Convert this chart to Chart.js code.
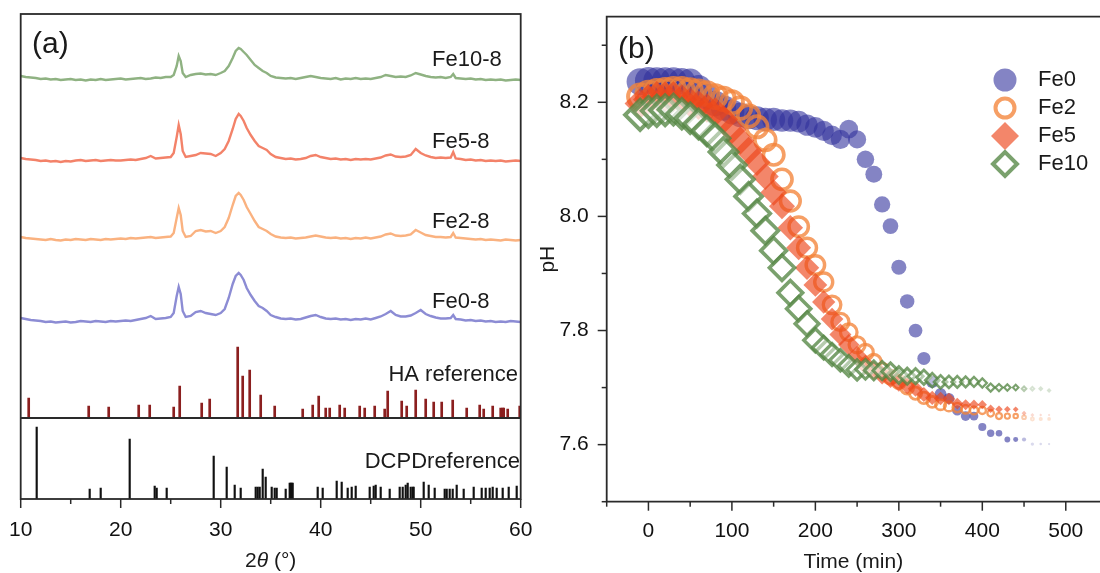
<!DOCTYPE html>
<html>
<head>
<meta charset="utf-8">
<title>XRD patterns and pH curves</title>
<script src="https://cdn.jsdelivr.net/npm/chart.js@4.4.1/dist/chart.umd.min.js"></script>
<style>
  html, body { margin: 0; padding: 0; background: #fff; overflow: hidden; }
  #xrd { position: absolute; left: 0; top: 0; }
  #ph { position: absolute; left: 525px; top: 0; }
</style>
</head>
<body>
<canvas id="xrd" width="545" height="573"></canvas>
<canvas id="ph" width="575" height="573"></canvas>
<script>
// ---- (a) XRD patterns, intensity in a.u. above each pattern's baseline ----
var twoTheta = [10, 10.5, 11, 11.5, 12, 12.5, 13, 13.5, 14, 14.5, 15, 15.5, 16, 16.5, 17, 17.5, 18, 18.5, 19, 19.5,
  20, 20.5, 21, 21.5, 22, 22.5, 23, 23.5, 24, 24.5,
  25, 25.3, 25.6, 25.8, 26, 26.2, 26.5, 27, 27.5, 28, 28.5, 29, 29.5, 30, 30.4, 30.8, 31.2, 31.5, 31.8, 32,
  32.3, 32.6, 33, 33.4, 33.8, 34.2, 34.6, 35, 35.5,
  36, 36.5, 37, 37.5, 38, 38.5, 39, 39.5, 40, 40.5, 41, 41.5, 42, 42.5, 43, 43.5, 44, 44.5, 45, 45.5,
  46, 46.5, 47, 47.5, 48, 48.5, 49, 49.5, 50, 50.5, 51, 51.5, 52, 52.5,
  53, 53.25, 53.5, 54, 54.5, 55, 55.5, 56, 56.5, 57, 57.5, 58, 58.5, 59, 59.5, 60];

var fe0_8 = [4, 3, 2, 1.5, 1, 0, 0.5, -0.5, 0, 0.5, -0.5, 0, 1, 0.5, 0, 1, 0.5, 0, 1, 0.5, 1, 1.5, 1, 2, 3, 4, 6, 3, 3.5, 4,
  5, 9, 26, 35, 28, 11, 5, 6, 10, 11, 9, 8, 7, 9, 13, 24, 38, 46, 49, 47, 42, 34, 27, 21, 16, 14, 11, 7, 5,
  3.5, 3, 3.5, 2.5, 3, 4.5, 6, 7, 5, 3.5, 3, 3.5, 2.5, 3, 2, 3, 2.5, 3.5, 2.5, 4, 5.5, 8, 11, 7, 5.5, 5.5, 6.5, 9, 12, 8, 6, 4.5, 3.5, 3.5,
  4, 7, 3, 2.5, 1.5, 2, 1, 1.5, 0.5, 1, 0, 0.5, 0, 1, 0.5, 0];
var fe2_8 = [3, 2, 1.5, 1, 0.5, 0, 1, 0, -0.5, 0.5, 0, 1, 0.5, 0, 1, 0.5, 0, 1, 0.5, 1, 1.5, 1, 2, 1.5, 2, 2.5, 3, 2, 2.5, 3,
  3.5, 7, 22, 32, 25, 9, 3, 4, 9, 10, 8.5, 9, 7, 9, 13, 22, 35, 44, 47, 45, 40, 33, 26, 19, 13, 11, 9, 6, 3.5,
  2.5, 2, 2.5, 1.5, 2, 2.5, 3.5, 4.5, 3.5, 2.5, 2, 2.5, 1.5, 2, 1, 2, 1.5, 2.5, 1.5, 2.5, 3.5, 5.5, 6.5, 4.5, 4, 4.5, 5.5, 10, 7.5, 5, 4, 3, 3, 2.5,
  3, 7, 2.5, 2, 1.5, 1, 0.5, 1, 0, 0.5, 0, -0.5, 0.5, 0, -0.5, 0];
var fe5_8 = [3, 2, 1.5, 1, 0, 0.5, -0.5, 0, -1, 0, -0.5, 0.5, 1, 0, 0.5, 1, 0, 0.5, 1, 0.5, 0.5, 1, 1.5, 1, 2, 3, 5, 2.5, 3, 3.5,
  4, 8, 24, 36, 27, 10, 4, 5, 6, 8, 7.5, 7, 5, 8, 12, 20, 32, 42, 47, 45, 40, 33, 26, 20, 15, 13, 11, 7, 4,
  3, 2, 2.5, 1.5, 2, 3, 5, 6, 4, 3, 2, 2.5, 1.5, 2, 1, 2, 1.5, 2, 1.5, 2.5, 3.5, 5.5, 6.5, 4.5, 4, 4.5, 6, 12, 8, 5.5, 4, 3, 3.5, 3,
  3.5, 9, 2.5, 2, 1, 1.5, 0.5, 1, 0, 0.5, 0, 0.5, -0.5, 0, 0.5, 0];
var fe10_8 = [4, 3, 2.5, 2, 1, 1.5, 0.5, 1, 0, 0.5, 1, 0, 0.5, -0.5, 0.5, 0, 1, 0, 0.5, 1, 1.5, 0.5, 1, 1.5, 2, 1, 1.5, 2.5, 2, 3,
  3, 5, 14, 24, 19, 7, 3, 5, 6, 6.5, 5.5, 6, 5, 7, 9, 14, 22, 29, 32, 31, 28, 25, 20, 15, 12, 9, 7, 4, 2.5,
  2, 1.5, 2, 1, 2, 3, 4, 3, 2, 1.5, 1, 2, 0.5, 1.5, 1, 2, 1, 1.5, 1, 2, 3, 5, 4, 3, 3.5, 3, 4.5, 7, 5.5, 4, 3, 2.5, 3, 2,
  3, 6, 2, 1.5, 1, 1.5, 0.5, 1, 0, 0.5, 0, 0.5, -0.5, 0, 0.5, 0];

// reference stick patterns
var haPos = [10.8, 16.8, 18.8, 21.8, 22.9, 25.3, 25.9, 28.1, 28.9, 31.7, 32.2, 32.9, 34.0, 35.4, 38.2, 39.2, 39.8, 40.5, 40.9, 41.9,
  42.4, 43.9, 44.4, 45.4, 46.4, 46.7, 48.1, 48.6, 49.5, 50.5, 51.3, 52.1, 53.2, 54.6, 55.9, 56.3, 57.2, 58.0, 58.2, 58.3, 58.7, 59.9];
var haInt = [20, 12, 11, 13, 13, 11, 32, 15, 19, 71, 42, 48, 23, 12, 9, 13, 22, 10, 10, 13,
  10, 12, 10, 12, 9, 27, 17, 12, 28, 19, 16, 16, 18, 10, 13, 9, 12, 10, 10, 10, 9, 12];
var dcpdPos = [11.6, 16.9, 18.0, 20.9, 23.4, 23.6, 24.6, 29.3, 30.6, 31.4, 32.0, 33.5, 33.7, 33.9, 34.2, 34.5, 35.1, 35.4, 35.6, 36.5,
  36.9, 37.0, 37.1, 37.2, 39.7, 40.2, 41.6, 42.1, 42.7, 43.1, 43.5, 44.9, 45.3, 45.5, 46.0, 46.9, 47.9, 48.2, 48.5, 48.7,
  49.0, 49.2, 49.3, 50.3, 50.8, 51.4, 52.4, 52.6, 52.9, 53.2, 53.6, 54.3, 55.3, 56.1, 56.5, 56.9, 57.2, 57.6, 58.2, 58.8, 59.6];
var dcpdInt = [72, 10, 11, 60, 13, 11, 11, 43, 32, 14, 11, 12, 12, 12, 30, 22, 12, 11, 11, 10,
  16, 16, 16, 16, 12, 11, 18, 17, 11, 12, 13, 12, 13, 14, 12, 10, 12, 12, 14, 16,
  12, 12, 12, 17, 14, 11, 10, 10, 10, 10, 14, 10, 12, 11, 11, 11, 12, 11, 11, 12, 13];

// ---- (b) pH versus time ----
var timeMin = [-10, 0, 10, 20, 30, 40, 50, 60, 70, 80, 90, 100, 110, 120, 130, 140, 150, 160, 170, 180, 190, 200,
  210, 220, 230, 240, 250, 260, 270, 280, 290, 300, 310, 320, 330, 340, 350, 360, 370, 380, 390, 400,
  410, 420, 430, 440, 450, 460, 470, 480];
var phFe0 = [8.236, 8.238, 8.238, 8.238, 8.238, 8.237, 8.236, 8.225, 8.21, 8.198, 8.19, 8.183, 8.178, 8.174, 8.172, 8.17, 8.17,
  8.168, 8.168, 8.166, 8.16, 8.156, 8.15, 8.142, 8.135, 8.153, 8.135, 8.10, 8.074, 8.021, 7.983, 7.911, 7.851, 7.80, 7.751,
  7.71, 7.689, 7.681, 7.66, 7.65, 7.65, 7.631, 7.62, 7.62, 7.609, 7.609, 7.609, 7.601, 7.601, 7.601];
var phFe2 = [8.21, 8.215, 8.218, 8.22, 8.222, 8.222, 8.22, 8.218, 8.215, 8.21, 8.206, 8.20, 8.19, 8.176, 8.157, 8.134, 8.108,
  8.065, 8.027, 7.982, 7.945, 7.915, 7.885, 7.845, 7.815, 7.797, 7.775, 7.762, 7.745, 7.73, 7.718, 7.71, 7.70, 7.69, 7.682,
  7.675, 7.67, 7.667, 7.665, 7.662, 7.66, 7.66, 7.655, 7.65, 7.65, 7.65, 7.648, 7.645, 7.645, 7.645];
var phFe5 = [8.198, 8.205, 8.21, 8.21, 8.21, 8.205, 8.20, 8.195, 8.19, 8.183, 8.17, 8.152, 8.133, 8.115, 8.095, 8.07, 8.042,
  8.018, 7.98, 7.945, 7.91, 7.88, 7.85, 7.82, 7.793, 7.775, 7.755, 7.74, 7.73, 7.722, 7.715, 7.708, 7.703, 7.698, 7.688,
  7.682, 7.681, 7.68, 7.672, 7.67, 7.67, 7.67, 7.663, 7.662, 7.662, 7.662, 7.655, 7.652, 7.652, 7.652];
var phFe10 = [8.178, 8.183, 8.185, 8.186, 8.187, 8.18, 8.172, 8.162, 8.15, 8.137, 8.113, 8.09, 8.065, 8.035, 8.005, 7.975, 7.94,
  7.91, 7.866, 7.838, 7.812, 7.783, 7.77, 7.758, 7.748, 7.738, 7.731, 7.732, 7.73, 7.73, 7.728, 7.722, 7.72, 7.72, 7.718,
  7.713, 7.71, 7.71, 7.71, 7.71, 7.71, 7.708, 7.70, 7.70, 7.70, 7.70, 7.698, 7.698, 7.698, 7.695];

var FONT = "'Liberation Sans', Arial, sans-serif";
var AXIS_COLOR = '#2a2a2a';

// stacking offsets of the patterns in panel (a)
var OFFSET = { fe0: 177, fe2: 259, fe5: 338, fe10: 419 };
var HA_BASE = 81;

function pattern(values, offset) {
  return twoTheta.map(function (x, i) { return { x: x, y: values[i] + offset }; });
}
function sticks(pos, ints, base) {
  return pos.map(function (x, i) { return { x: x, y: [base, base + ints[i]] }; });
}

// keep the plot area exactly where the layout padding puts it
function noEdgePadding(s) {
  s.paddingLeft = 0; s.paddingRight = 0; s.paddingTop = 0; s.paddingBottom = 0;
}

// tick marks drawn outside the frame, long for labelled ticks
function drawTicks(ctx, scale, horizontal) {
  scale.ticks.forEach(function (t) {
    var p = scale.getPixelForValue(t.value);
    var len = t.label === '' ? 5 : 9;
    ctx.beginPath();
    if (horizontal) {
      ctx.moveTo(p, scale.top);
      ctx.lineTo(p, scale.top + len);
    } else {
      ctx.moveTo(scale.right, p);
      ctx.lineTo(scale.right - len, p);
    }
    ctx.stroke();
  });
}

var xrdDecor = {
  id: 'xrdDecor',
  afterDraw: function (chart) {
    var ctx = chart.ctx, a = chart.chartArea;
    var sepY = chart.scales.y.getPixelForValue(HA_BASE);
    ctx.save();
    ctx.strokeStyle = AXIS_COLOR;
    ctx.lineWidth = 1.8;
    ctx.strokeRect(a.left, a.top, a.right - a.left, a.bottom - a.top);
    ctx.beginPath();
    ctx.moveTo(a.left, sepY);
    ctx.lineTo(a.right, sepY);
    ctx.stroke();
    ctx.lineWidth = 1.5;
    drawTicks(ctx, chart.scales.x, true);

    ctx.fillStyle = '#1a1a1a';
    ctx.textBaseline = 'middle';
    ctx.font = '30px ' + FONT;
    ctx.textAlign = 'left';
    ctx.fillText('(a)', 32, 45);

    ctx.font = '22px ' + FONT;
    ctx.fillText('Fe10-8', 432, 60);
    ctx.fillText('Fe5-8', 432, 142);
    ctx.fillText('Fe2-8', 432, 222);
    ctx.fillText('Fe0-8', 432, 302);
    ctx.textAlign = 'right';
    ctx.fillText('HA reference', 518, 375);
    ctx.fillText('DCPDreference', 520, 462);

    // axis title with italic theta
    var parts = [['2', '21px ' + FONT], ['\u03b8', 'italic 21px ' + FONT], [' (\u00b0)', '21px ' + FONT]];
    var w = 0;
    parts.forEach(function (p) { ctx.font = p[1]; w += ctx.measureText(p[0]).width; });
    var x = (a.left + a.right) / 2 - w / 2;
    ctx.textAlign = 'left';
    parts.forEach(function (p) {
      ctx.font = p[1];
      ctx.fillText(p[0], x, 561);
      x += ctx.measureText(p[0]).width;
    });
    ctx.restore();
  }
};

new Chart(document.getElementById('xrd'), {
  type: 'line',
  data: {
    datasets: [
      { label: 'Fe10-8', data: pattern(fe10_8, OFFSET.fe10), borderColor: 'rgb(143,178,130)' },
      { label: 'Fe5-8', data: pattern(fe5_8, OFFSET.fe5), borderColor: 'rgb(243,130,105)' },
      { label: 'Fe2-8', data: pattern(fe2_8, OFFSET.fe2), borderColor: 'rgb(250,178,128)' },
      { label: 'Fe0-8', data: pattern(fe0_8, OFFSET.fe0), borderColor: 'rgb(140,140,212)' },
      { type: 'bar', label: 'HA reference', data: sticks(haPos, haInt, HA_BASE), backgroundColor: '#8b1f1f', barThickness: 2, grouped: false },
      { type: 'bar', label: 'DCPD reference', data: sticks(dcpdPos, dcpdInt, 0), backgroundColor: '#111', barThickness: 1.5, grouped: false }
    ]
  },
  options: {
    responsive: false,
    animation: false,
    events: [],
    layout: { autoPadding: false, padding: { left: 20.7, top: 14, right: 24.3, bottom: 0 } },
    elements: { point: { radius: 0 }, line: { borderWidth: 2.4, tension: 0 } },
    plugins: { legend: { display: false }, tooltip: { enabled: false } },
    scales: {
      x: {
        type: 'linear', min: 10, max: 60, offset: false,
        grid: { display: false }, border: { display: false },
        ticks: {
          stepSize: 5, autoSkip: false, maxRotation: 0, padding: 11, color: '#111',
          font: { family: FONT, size: 21 },
          callback: function (v) { return v % 10 === 0 ? String(v) : ''; }
        },
        afterFit: function (s) { s.height = 74; noEdgePadding(s); }
      },
      y: { type: 'linear', min: 0, max: 485, display: false }
    }
  },
  plugins: [xrdDecor]
});

// ---- panel (b) ----
function rgba(c, a) { return 'rgba(' + c[0] + ',' + c[1] + ',' + c[2] + ',' + a + ')'; }
// markers shrink with time and fade out at the end of the run
function sizeFactor(t) { return Math.max(0.08, 1 - Math.pow(Math.max(t, 0) / 500, 1.6)); }
function fade(t) { return t >= 460 ? 0.3 : (t >= 450 ? 0.55 : 1); }
function tOf(c) { return c.dataIndex == null ? 0 : timeMin[c.dataIndex]; }

var phSeries = [
  { label: 'Fe0', values: phFe0, shape: 'circle', fill: [50, 50, 157], fillA: 0.6, line: [0, 0, 0], lineA: 0, r0: 13.5, bw0: 0, order: 4 },
  { label: 'Fe2', values: phFe2, shape: 'circle', fill: [255, 255, 255], fillA: 0, line: [244, 132, 58], lineA: 0.78, r0: 12, bw0: 4, order: 3 },
  { label: 'Fe5', values: phFe5, shape: 'rectRot', fill: [237, 69, 26], fillA: 0.65, line: [0, 0, 0], lineA: 0, r0: 15.5, bw0: 0, order: 2 },
  { label: 'Fe10', values: phFe10, shape: 'rectRot', fill: [255, 255, 255], fillA: 0.45, line: [84, 134, 68], lineA: 0.78, r0: 15, bw0: 4, order: 1 }
];

function markerPath(ctx, shape, x, y, r) {
  ctx.beginPath();
  if (shape === 'circle') {
    ctx.arc(x, y, r, 0, Math.PI * 2);
  } else {
    ctx.moveTo(x - r, y);
    ctx.lineTo(x, y - r);
    ctx.lineTo(x + r, y);
    ctx.lineTo(x, y + r);
    ctx.closePath();
  }
}

var phDecor = {
  id: 'phDecor',
  afterDraw: function (chart) {
    var ctx = chart.ctx, a = chart.chartArea;
    ctx.save();
    ctx.strokeStyle = AXIS_COLOR;
    ctx.lineWidth = 1.8;
    ctx.beginPath();
    ctx.moveTo(a.right, a.top);
    ctx.lineTo(a.left, a.top);
    ctx.lineTo(a.left, a.bottom);
    ctx.lineTo(a.right, a.bottom);
    ctx.stroke();
    ctx.lineWidth = 1.5;
    drawTicks(ctx, chart.scales.x, true);
    drawTicks(ctx, chart.scales.y, false);

    ctx.fillStyle = '#1a1a1a';
    ctx.textBaseline = 'middle';
    ctx.textAlign = 'left';
    ctx.font = '30px ' + FONT;
    ctx.fillText('(b)', 93, 50);

    // legend
    var ly = [80, 108, 136, 164];
    var lr = [11.5, 9.5, 14, 12];
    ctx.font = '22px ' + FONT;
    phSeries.forEach(function (s, i) {
      markerPath(ctx, s.shape, 480, ly[i], lr[i]);
      ctx.fillStyle = rgba(s.fill, s.fillA);
      ctx.fill();
      if (s.bw0) {
        ctx.lineWidth = s.bw0;
        ctx.strokeStyle = rgba(s.line, s.lineA);
        ctx.stroke();
      }
      ctx.fillStyle = '#1a1a1a';
      ctx.fillText(s.label, 513, ly[i]);
    });
    ctx.restore();
  }
};

new Chart(document.getElementById('ph'), {
  type: 'scatter',
  data: {
    datasets: phSeries.map(function (s) {
      return {
        label: s.label,
        order: s.order,
        data: timeMin.map(function (t, i) { return { x: t, y: s.values[i] }; }),
        pointStyle: s.shape,
        pointRadius: function (c) { return s.r0 * sizeFactor(tOf(c)); },
        pointBorderWidth: function (c) { return s.bw0 * (0.4 + 0.6 * sizeFactor(tOf(c))); },
        pointBackgroundColor: function (c) { return rgba(s.fill, s.fillA * fade(tOf(c))); },
        pointBorderColor: function (c) { return rgba(s.line, s.lineA * fade(tOf(c))); }
      };
    })
  },
  options: {
    responsive: false,
    animation: false,
    events: [],
    layout: { autoPadding: false, padding: { left: 0, top: 16.7, right: 0, bottom: 0 } },
    plugins: { legend: { display: false }, tooltip: { enabled: false } },
    scales: {
      x: {
        type: 'linear', min: -50, max: 541,
        grid: { display: false }, border: { display: false },
        ticks: {
          stepSize: 50, includeBounds: false, autoSkip: false, maxRotation: 0, padding: 9, color: '#111',
          font: { family: FONT, size: 21 },
          callback: function (v) { return v % 100 === 0 ? String(v) : ''; }
        },
        title: {
          display: true, text: 'Time (min)', color: '#1a1a1a',
          font: { family: FONT, size: 21, lineHeight: 1 }, padding: { top: 0, bottom: 0 }
        },
        afterFit: function (s) { s.height = 71.3; noEdgePadding(s); }
      },
      y: {
        type: 'linear', min: 7.5, max: 8.35,
        grid: { display: false }, border: { display: false },
        ticks: {
          stepSize: 0.1, includeBounds: false, autoSkip: false, padding: 10, color: '#111',
          font: { family: FONT, size: 21 },
          callback: function (v) {
            var k = Math.round(v * 10);
            return (k % 2 === 0 && k >= 76) ? v.toFixed(1) : '';
          }
        },
        title: {
          display: true, text: 'pH', color: '#1a1a1a',
          font: { family: FONT, size: 21, lineHeight: 1 }, padding: { top: 13, bottom: 0 }
        },
        afterFit: function (s) { s.width = 81.7; noEdgePadding(s); }
      }
    }
  },
  plugins: [phDecor]
});
</script>
</body>
</html>
